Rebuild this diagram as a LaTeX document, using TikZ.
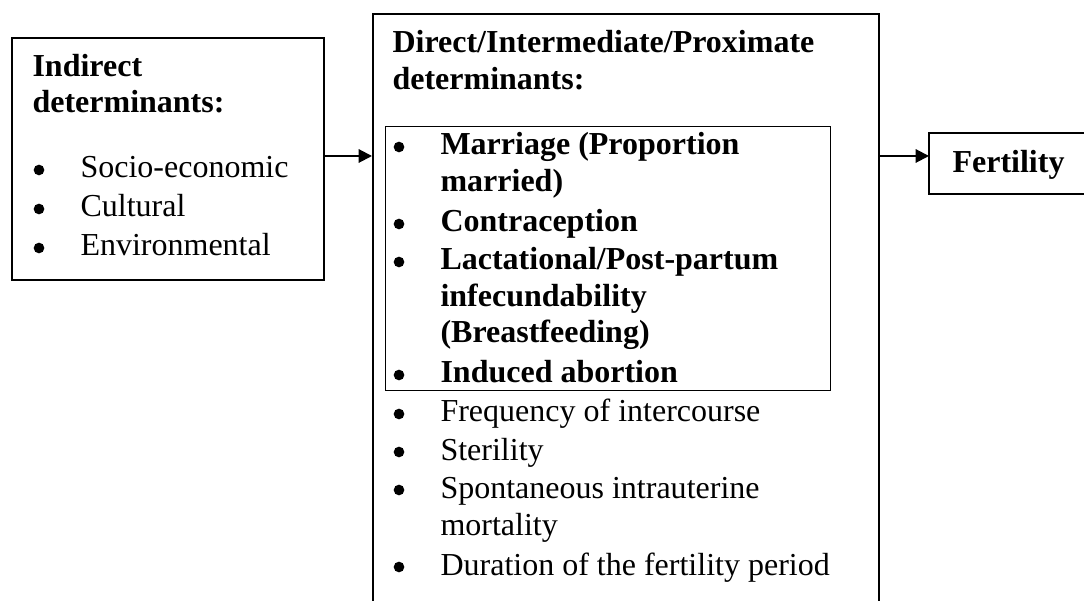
\documentclass[tikz,border=0pt]{standalone}
\usepackage{fontspec}
\setmainfont{Liberation Serif}
\usetikzlibrary{positioning, arrows.meta}

\newcommand{\bodyfont}{\fontsize{12}{14.25}\selectfont}

\begin{document}
\begin{tikzpicture}[x=0.375pt, y=-0.375pt, font=\bodyfont]
    % Styles
    \tikzstyle{frame} = [draw, line width=0.75pt, inner sep=0pt, anchor=north west]
    \tikzstyle{inframe} = [draw, line width=0.5pt, inner sep=0pt, anchor=north west]
    \tikzstyle{line} = [anchor=base west, inner sep=0pt]
    \tikzstyle{boldline} = [line, font=\bodyfont\bfseries]
    \tikzstyle{bul} = [circle, fill, inner sep=0pt, minimum size=4pt, yshift=3pt]
    \tikzstyle{link} = [-{Triangle[length=5pt, width=5pt]}, line width=0.75pt]

    % Page area (boxes run past the right and bottom edges)
    \clip (0,0) rectangle (1084,601);

    % Boxes
    \node[frame, minimum width=117pt, minimum height=90.75pt] (indirect) at (11,37) {};
    \node[frame, minimum width=189.75pt, minimum height=240pt] (direct) at (372,13) {};
    \node[inframe, minimum width=166.9pt, minimum height=99pt] (proximate) at (385,126) {};
    \node[frame, draw=none, minimum width=100pt, minimum height=22.1pt] (fertility) at (929,133) {};
    \draw[line width=0.75pt] (fertility.north east) -- (fertility.north west)
        -- (fertility.south west) -- (fertility.south east);

    % Indirect determinants
    \node[boldline] (ind_t1) at (32,77) {Indirect};
    \node[boldline] (ind_t2) at (32,113) {determinants:};
    \node[bul] (ind_b1) at (39,178) {};
    \node[bul] (ind_b2) at (39,217) {};
    \node[bul] (ind_b3) at (39,256) {};
    \node[line] (socio) at (80,178) {Socio-economic};
    \node[line] (cultural) at (80,217) {Cultural};
    \node[line] (environ) at (80,256) {Environmental};

    % Direct determinants heading
    \node[boldline] (dir_t1) at (392,53) {Direct/Intermediate/Proximate};
    \node[boldline] (dir_t2) at (392,90) {determinants:};

    % Main proximate determinants (inner box)
    \node[bul] (px_b1) at (399,155) {};
    \node[bul] (px_b2) at (399,232) {};
    \node[bul] (px_b3) at (399,270) {};
    \node[bul] (px_b4) at (399,383) {};
    \node[boldline] (marriage1) at (440,155) {Marriage (Proportion};
    \node[boldline] (marriage2) at (440,192) {married)};
    \node[boldline] (contra) at (440,232) {Contraception};
    \node[boldline] (lact1) at (440,270) {Lactational/Post-partum};
    \node[boldline] (lact2) at (440,307) {infecundability};
    \node[boldline] (lact3) at (440,343) {(Breastfeeding)};
    \node[boldline] (abortion) at (440,383) {Induced abortion};

    % Other proximate determinants
    \node[bul] (ot_b1) at (399,422) {};
    \node[bul] (ot_b2) at (399,460) {};
    \node[bul] (ot_b3) at (399,498) {};
    \node[bul] (ot_b4) at (399,575) {};
    \node[line] (freq) at (440,422) {Frequency of intercourse};
    \node[line] (steril) at (440,460) {Sterility};
    \node[line] (spont1) at (440,498) {Spontaneous intrauterine};
    \node[line] (spont2) at (440,535) {mortality};
    \node[line] (duration) at (440,575) {Duration of the fertility period};

    % Outcome
    \node[boldline] (fert_t) at (952,173) {Fertility};

    % Connections
    \draw[link] (indirect.east |- 0,156) -- (direct.west |- 0,156);
    \draw[link] (direct.east |- 0,156) -- (fertility.west |- 0,156);
\end{tikzpicture}
\end{document}
